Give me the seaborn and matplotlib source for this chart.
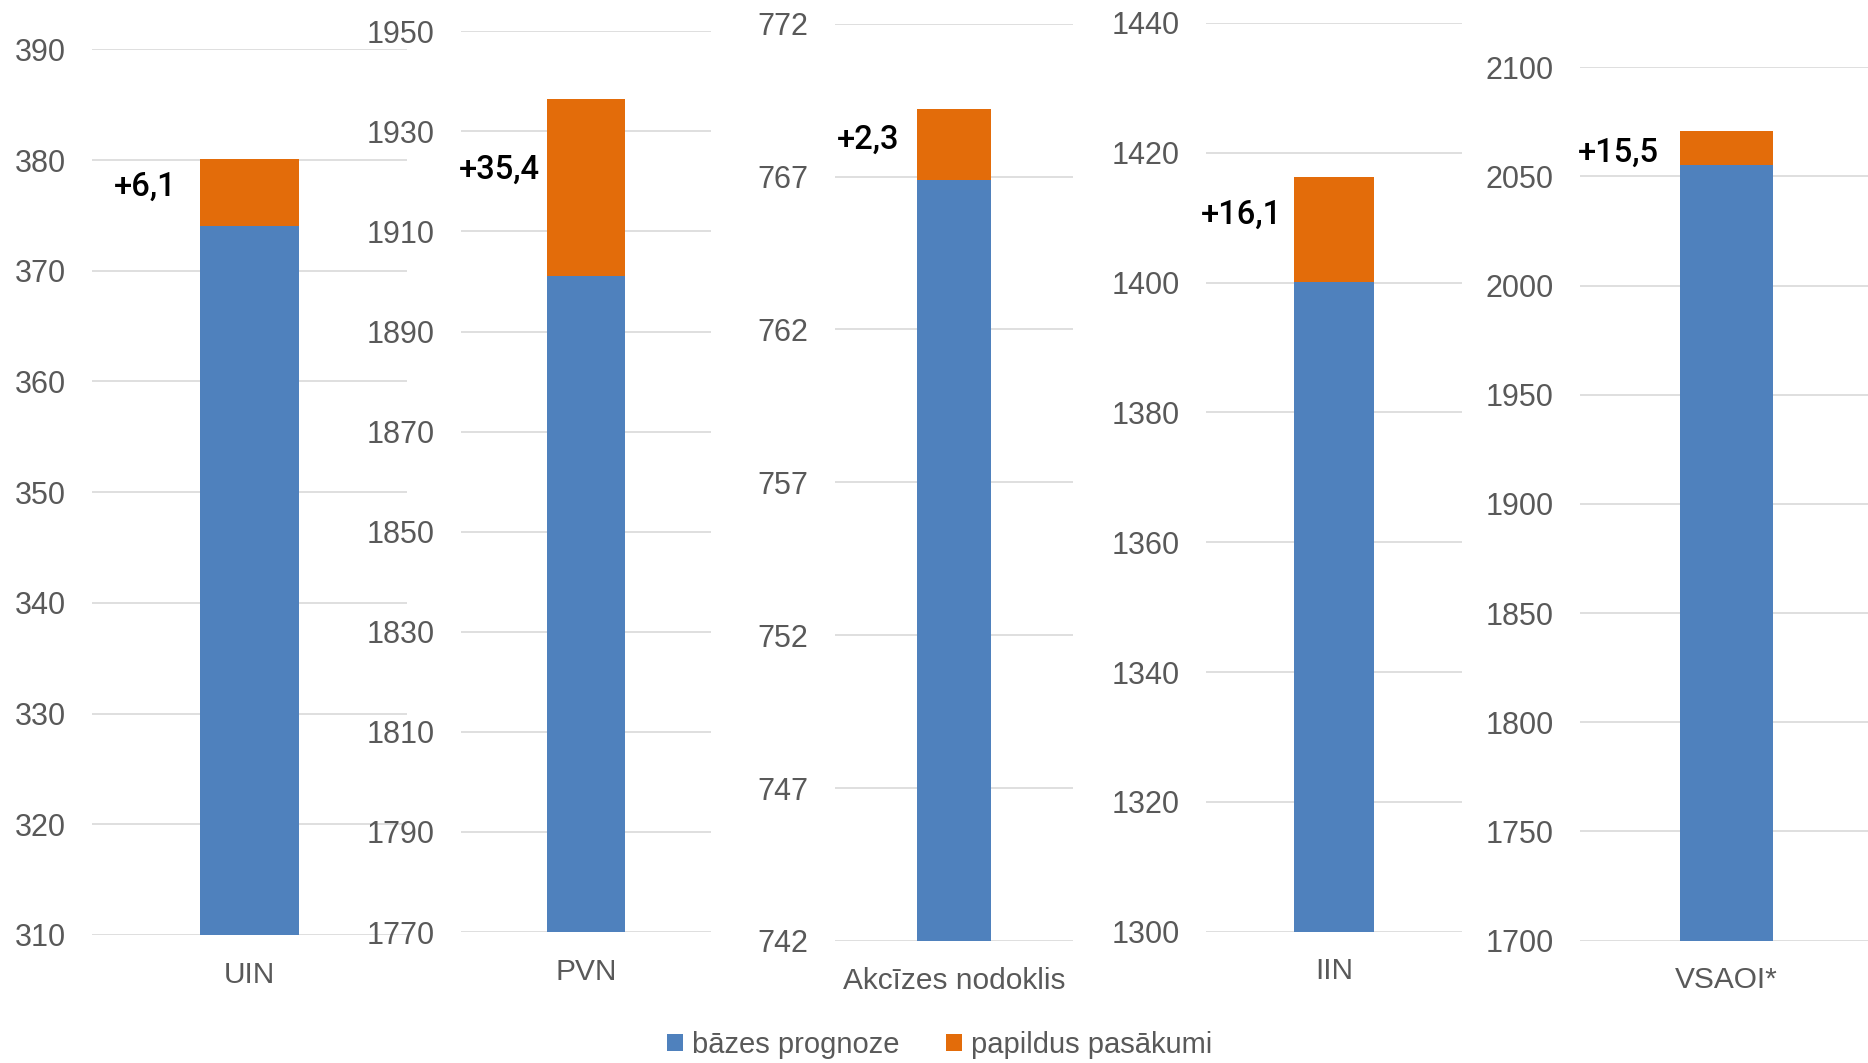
import matplotlib
matplotlib.use("Agg")
import matplotlib.pyplot as plt
from matplotlib.patches import Patch
import numpy as np
import seaborn as sns

# Tax revenue forecast: base forecast plus additional measures (mln EUR)
categories = ["UIN", "PVN", "Akcīzes nodoklis", "IIN", "VSAOI*"]
base_forecast = [374.0, 1901.1, 766.9, 1400.1, 2055.3]
extra_measures = [6.1, 35.4, 2.3, 16.1, 15.5]

# Independent value axis for each tax
y_min = [310, 1770, 742, 1300, 1700]
y_max = [390, 1950, 772, 1440, 2100]
y_step = [10, 20, 5, 20, 50]

legend_labels = ["bāzes prognoze", "papildus pasākumi"]

BLUE = "#4F81BD"
ORANGE = "#E36C0A"
GRID = "#D9D9D9"
TEXT = "#595959"

W, H = 1868, 1063
# panel boxes in pixels: left, right, top, bottom
panel_px = [
    (92, 407, 49.3, 935.0),
    (461, 711, 31.3, 932.0),
    (835, 1073, 23.7, 941.0),
    (1206, 1462, 23.0, 931.7),
    (1580, 1873, 67.3, 940.5),
]
# value-label anchor (right edge, vertical centre) in axes fractions
label_anchor = [(0.267, 0.845), (0.316, 0.846), (0.269, 0.873),
                (0.297, 0.789), (0.270, 0.902)]

sns.set_theme(style="white")
plt.rcParams["font.family"] = ["Liberation Sans", "DejaVu Sans"]

fig = plt.figure(figsize=(W / 100, H / 100), dpi=100)

for i, cat in enumerate(categories):
    l, r, t, b = panel_px[i]
    ax = fig.add_axes([l / W, 1 - b / H, (r - l) / W, (b - t) / H])
    total = base_forecast[i] + extra_measures[i]

    sns.barplot(x=[cat], y=[total], color=ORANGE, width=0.315,
                saturation=1, linewidth=0, ax=ax)
    sns.barplot(x=[cat], y=[base_forecast[i]], color=BLUE, width=0.315,
                saturation=1, linewidth=0, ax=ax)

    ax.set_xlim(-0.5, 0.5)
    ax.set_ylim(y_min[i], y_max[i])
    ax.set_yticks(np.arange(y_min[i], y_max[i] + y_step[i] / 2, y_step[i]))
    ax.yaxis.grid(True, color=GRID, linewidth=1.2)
    ax.xaxis.grid(False)
    ax.set_axisbelow(True)
    for s in ax.spines.values():
        s.set_visible(False)
    ax.set_xlabel("")
    ax.set_ylabel("")
    ax.tick_params(axis="y", length=0, pad=19, labelsize=22, labelcolor=TEXT)
    ax.tick_params(axis="x", length=0, pad=18.5, labelsize=21.5, labelcolor=TEXT)
    ax.set_facecolor("none")

    txt = "+" + f"{extra_measures[i]:.1f}".replace(".", ",")
    ax.text(label_anchor[i][0], label_anchor[i][1], txt,
            transform=ax.transAxes, ha="right", va="center",
            fontsize=23.5, color="black", fontweight="medium",
            family=["Roboto", "Liberation Sans", "DejaVu Sans"])

handles = [Patch(facecolor=BLUE, edgecolor="none"),
           Patch(facecolor=ORANGE, edgecolor="none")]
fig.legend(handles, legend_labels, loc="center", bbox_to_anchor=(0.503, 0.017),
           ncol=2, frameon=False, fontsize=21, labelcolor=TEXT,
           handlelength=0.55, handleheight=0.55, handletextpad=0.3,
           columnspacing=1.6)

fig.savefig("out.png", dpi=100)
